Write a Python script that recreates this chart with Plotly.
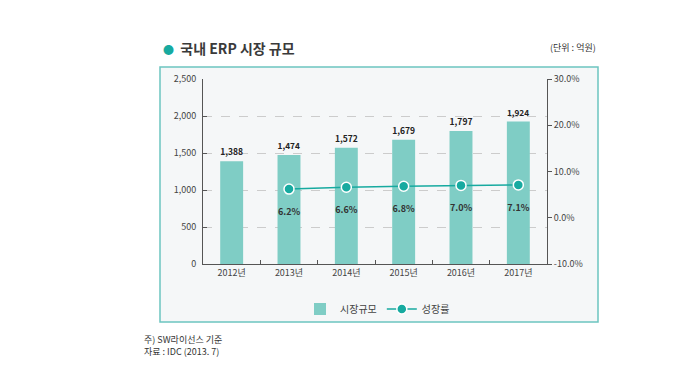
import plotly.graph_objects as go

years = ["2012년", "2013년", "2014년", "2015년", "2016년", "2017년"]
market = [1388, 1474, 1572, 1679, 1797, 1924]
growth_years = ["2013년", "2014년", "2015년", "2016년", "2017년"]
growth = [6.2, 6.6, 6.8, 7.0, 7.1]
y2_ticks = [-10, 0, 10, 20, 30]
y2_labels = ["-10.0%", "0.0%", "10.0%", "20.0%", "30.0%"]

FONT = "Noto Sans CJK KR"
BAR = "#7fcdc5"
LINE = "#17aaa0"
TXT = "#333333"

# page body has an 8px default margin: shift everything by -8
OFF = 8
W, H = 700 - OFF, 383 - OFF
L, R, T, B = 203 - OFF, 547 - OFF, 79 - OFF, 264 - OFF
pw, ph = R - L, B - T
def px(x): return (x - OFF - L) / pw
def py(y): return (B - (y - OFF)) / ph

fig = go.Figure()
fig.add_trace(go.Bar(
    x=years, y=market, name="시장규모",
    marker=dict(color=BAR, line=dict(width=0)),
    text=[f"{v:,}" for v in market], textposition="outside",
    textfont=dict(size=9, color="#222222", family=FONT, weight="bold"),
    cliponaxis=False, width=0.4,
))
fig.add_trace(go.Scatter(
    x=growth_years, y=growth, name="성장률", yaxis="y2",
    mode="lines+markers+text",
    line=dict(color=LINE, width=1.5),
    marker=dict(size=10, color=LINE, line=dict(color="white", width=1.5)),
    text=[f"<br>{v:.1f}%" for v in growth], textposition="bottom center",
    textfont=dict(size=9, color="#333333", family=FONT, weight="bold"),
))

fig.add_shape(type="rect", xref="paper", yref="paper",
              x0=px(160), x1=px(598), y0=py(322), y1=py(67),
              fillcolor="#f5f7f8", line=dict(color="#6cc5c0", width=1.5), layer="below")

fig.update_layout(
    width=W, height=H,
    margin=dict(l=L, r=W - R, t=T, b=H - B, pad=0),
    paper_bgcolor="white", plot_bgcolor="rgba(0,0,0,0)",
    font=dict(family=FONT, size=9, color=TXT),
    showlegend=True,
    legend=dict(orientation="h", x=px(300), xanchor="left", y=py(309), yanchor="middle",
                font=dict(size=10, color="#444444"), bgcolor="rgba(0,0,0,0)",
                itemwidth=30, tracegroupgap=0),
    xaxis=dict(showline=True, linecolor="#555555", linewidth=1,
               ticks="inside", ticklen=4, tickcolor="#555555", tickson="boundaries",
               tickfont=dict(size=9, color="#444444"), showgrid=False),
    yaxis=dict(range=[0, 2500], dtick=500, tickformat=",", showline=True,
               linecolor="#555555", linewidth=1, ticks="inside", ticklen=4, tickcolor="#555555",
               showgrid=True, gridcolor="#cccccc", griddash="dash", gridwidth=1,
               zeroline=False, tickfont=dict(size=9, color="#444444"), ticklabelstandoff=4),
    yaxis2=dict(range=[-10, 30], tickvals=y2_ticks, ticktext=y2_labels,
                overlaying="y", side="right", showline=True, linecolor="#555555",
                linewidth=1, ticks="outside", ticklen=4, tickcolor="#555555",
                showgrid=False, zeroline=False, tickfont=dict(size=9, color="#444444")),
    bargap=0.6,
)

fig.add_annotation(xref="paper", yref="paper", x=px(161), y=py(48), xanchor="left",
                   yanchor="middle", showarrow=False,
                   text="<span style='color:#17aaa0;font-size:11px'>●</span>  <b>국내 ERP 시장 규모</b>",
                   font=dict(size=14, color="#3a3a3a", family=FONT))
fig.add_annotation(xref="paper", yref="paper", x=px(598), y=py(48), xanchor="right",
                   yanchor="middle", showarrow=False, text="(단위 : 억원)",
                   font=dict(size=9, color="#333333", family=FONT))
fig.add_annotation(xref="paper", yref="paper", x=px(142), y=py(345), xanchor="left",
                   yanchor="middle", showarrow=False, align="left",
                   text="주) SW라이선스 기준<br>자료 : IDC (2013. 7)",
                   font=dict(size=9, color="#333333", family=FONT))

fig.write_html("out.html")
